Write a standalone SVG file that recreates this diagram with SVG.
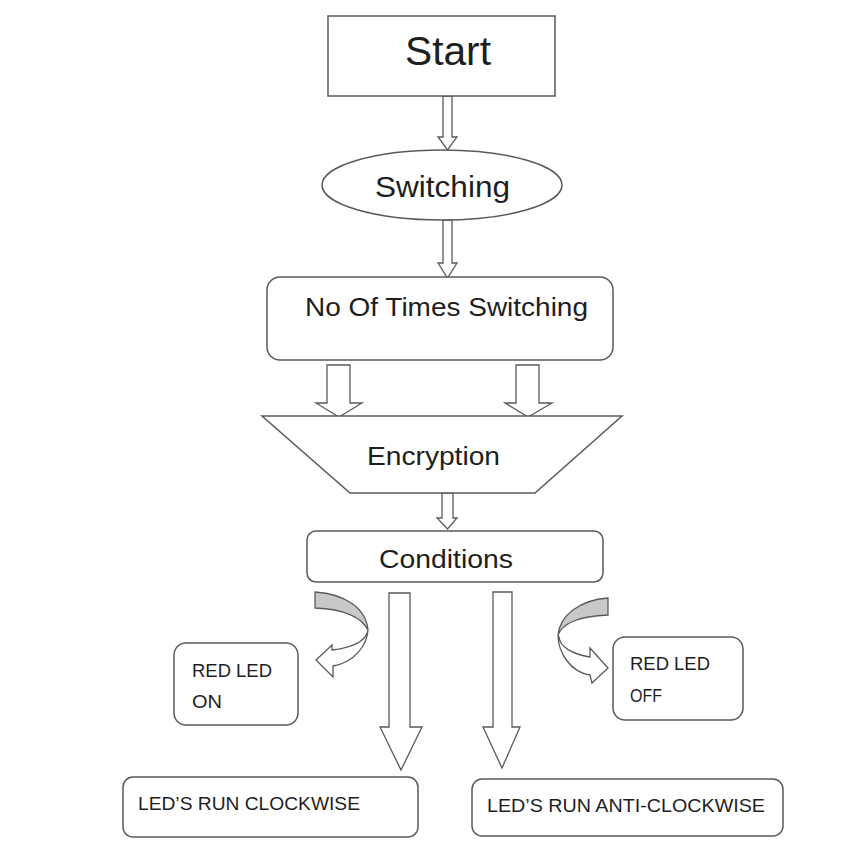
<svg xmlns="http://www.w3.org/2000/svg" width="844" height="857" viewBox="0 0 844 857">
<style>
.box{fill:#fff;stroke:#5a5a5a;stroke-width:1.5}
.arr{fill:#fff;stroke:#5a5a5a;stroke-width:1.3;stroke-linejoin:miter}
.gray{fill:#c8c8c8;stroke:#5a5a5a;stroke-width:1.3}
text{font-family:"Liberation Sans",Arial,sans-serif;fill:#1e1e1e}
</style>
<rect width="844" height="857" fill="#fff"/>
<g id="connectors">
<polygon class="arr" points="443,96 452,96 452,137 457,137 447.5,150 438,137 443,137"/>
<polygon class="arr" points="443,220 452,220 452,263 457,263 447.5,278 438,263 443,263"/>
<polygon class="arr" points="327,365 350,365 350,403 362,403 339,417 316,403 327,403"/>
<polygon class="arr" points="516,365 539,365 539,403 552,403 528,417 505,403 516,403"/>
<polygon class="arr" points="442,493 453,493 453,518 457,518 447.5,529 437,518 442,518"/>
<polygon class="arr" points="389,593 410,593 410,727 422,727 401,770 380,727 389,727"/>
<polygon class="arr" points="493,592 512,592 512,727 520,727 502,768 483,727 493,727"/>
<g id="curve-left">
<path class="arr" d="M368,630 C367,645 355,662 333,666 L333,677 L316,660 L332,645 L332,650 C350,648 366,642 368,630 Z"/>
<path class="gray" d="M315,592 C345,594 366,608 368,630 C362,618 345,609 315,608 Z"/>
</g>
<g id="curve-right">
<path class="arr" d="M558,635 C558,652 570,672 590,675 L592,683 L608,668 L590,648 L590,657 C572,654 560,647 559,637 Z"/>
<path class="gray" d="M608,598 C580,600 560,615 558,635 C562,624 578,616 608,615 Z"/>
</g>
</g>
<g id="start">
<rect class="box" x="328" y="16" width="227" height="80"/>
<text x="448" y="65" font-size="40" text-anchor="middle" textLength="86" lengthAdjust="spacingAndGlyphs">Start</text>
</g>
<g id="switching">
<ellipse class="box" cx="442" cy="185" rx="120" ry="35"/>
<text x="442.5" y="197" font-size="30" text-anchor="middle" textLength="135" lengthAdjust="spacingAndGlyphs">Switching</text>
</g>
<g id="no-of-times">
<rect class="box" x="267" y="277" width="346" height="83" rx="13"/>
<text x="305" y="316" font-size="26" textLength="283" lengthAdjust="spacingAndGlyphs">No Of Times Switching</text>
</g>
<g id="encryption">
<polygon class="box" points="262,416 622,416 535,493 350,493"/>
<text x="367" y="465" font-size="26" textLength="133" lengthAdjust="spacingAndGlyphs">Encryption</text>
</g>
<g id="conditions">
<rect class="box" x="307" y="531" width="296" height="51" rx="9"/>
<text x="379" y="568" font-size="26" textLength="134" lengthAdjust="spacingAndGlyphs">Conditions</text>
</g>
<g id="red-on">
<rect class="box" x="174" y="643" width="124" height="82" rx="12"/>
<text x="192" y="677" font-size="19" textLength="80" lengthAdjust="spacingAndGlyphs">RED LED</text>
<text x="192" y="708" font-size="19" textLength="30" lengthAdjust="spacingAndGlyphs">ON</text>
</g>
<g id="red-off">
<rect class="box" x="613" y="637" width="130" height="83" rx="12"/>
<text x="630" y="670" font-size="19" textLength="80" lengthAdjust="spacingAndGlyphs">RED LED</text>
<text x="630" y="702" font-size="19" textLength="32" lengthAdjust="spacingAndGlyphs">OFF</text>
</g>
<g id="clockwise">
<rect class="box" x="123" y="777" width="295" height="60" rx="10"/>
<text x="138" y="810" font-size="19" textLength="222" lengthAdjust="spacingAndGlyphs">LED’S RUN CLOCKWISE</text>
</g>
<g id="anticlockwise">
<rect class="box" x="472" y="779" width="311" height="57" rx="10"/>
<text x="487" y="812" font-size="19" textLength="278" lengthAdjust="spacingAndGlyphs">LED’S RUN ANTI-CLOCKWISE</text>
</g>
</svg>
